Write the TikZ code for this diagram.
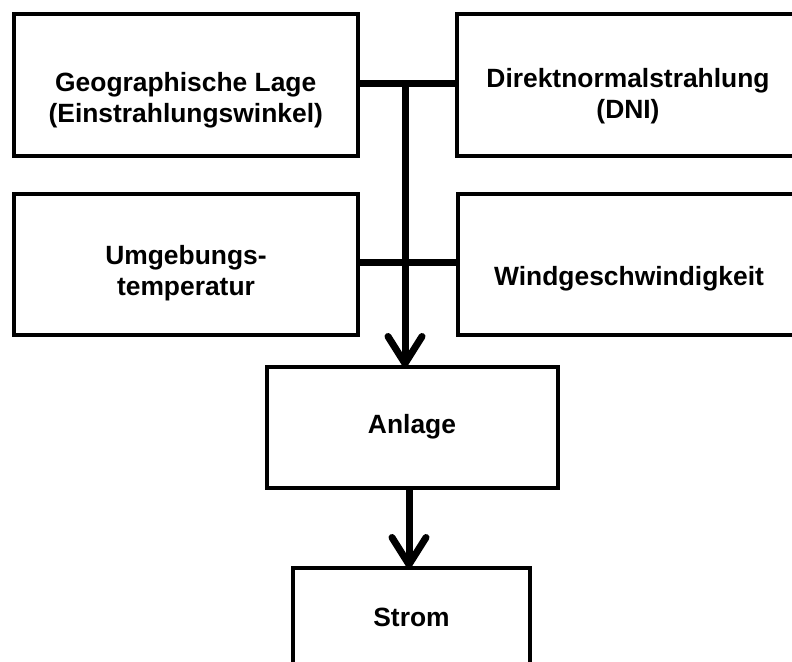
\documentclass[tikz,border=0pt]{standalone}
\usepackage{fontspec}
\setmainfont{Liberation Sans}
\usetikzlibrary{arrows.meta}
\begin{document}
\begin{tikzpicture}[x=1pt,y=-1pt,
  box/.style={draw, line width=4pt, rectangle, inner sep=0pt, outer sep=0pt},
  lbl/.style={font=\fontsize{26.4}{31}\selectfont\bfseries, align=center, inner sep=0pt, anchor=base},
  conn/.style={line width=7pt},
  arr/.style={line width=7pt, -{Straight Barb[length=27pt,width=34pt,round]}}]
\fill[white] (0,0) rectangle (792,661);
\useasboundingbox (0,0) rectangle (792,661);
% boxes
\node[box, minimum width=344.5pt, minimum height=142pt] (geo) at (185.75,85) {};
\node[box, minimum width=342pt, minimum height=142pt] (dni) at (628,85) {};
\node[box, minimum width=344pt, minimum height=141pt] (umg) at (186,264.5) {};
\node[box, minimum width=342pt, minimum height=141pt] (wind) at (628.5,264.5) {};
\node[box, minimum width=291pt, minimum height=121pt] (anl) at (412.5,427.5) {};
\node[box, minimum width=237pt, minimum height=121pt] (strom) at (411.5,628.5) {};
% labels (base anchor = baseline of the last line)
\node[lbl] (geo-t) at (185.75,122.5) {Geographische Lage\\(Einstrahlungswinkel)};
\node[lbl] (dni-t) at (628,118) {Direktnormalstrahlung\\(DNI)};
\node[lbl] (umg-t) at (186,295) {Umgebungs-\\temperatur};
\node[lbl] (wind-t) at (629,285) {Windgeschwindigkeit};
\node[lbl] (anl-t) at (412,433) {Anlage};
\node[lbl] (strom-t) at (411.5,626) {Strom};
% connectors
\coordinate (j1) at (405,83);
\coordinate (j2) at (405,262);
\coordinate (a2) at (409,488);
\draw[conn] (geo.east |- j1) -- (dni.west |- j1);
\draw[conn] (umg.east |- j2) -- (wind.west |- j2);
\draw[arr] (j1) -- (j1 |- anl.north);
\draw[arr] (a2) -- (a2 |- strom.north);
\end{tikzpicture}
\end{document}
